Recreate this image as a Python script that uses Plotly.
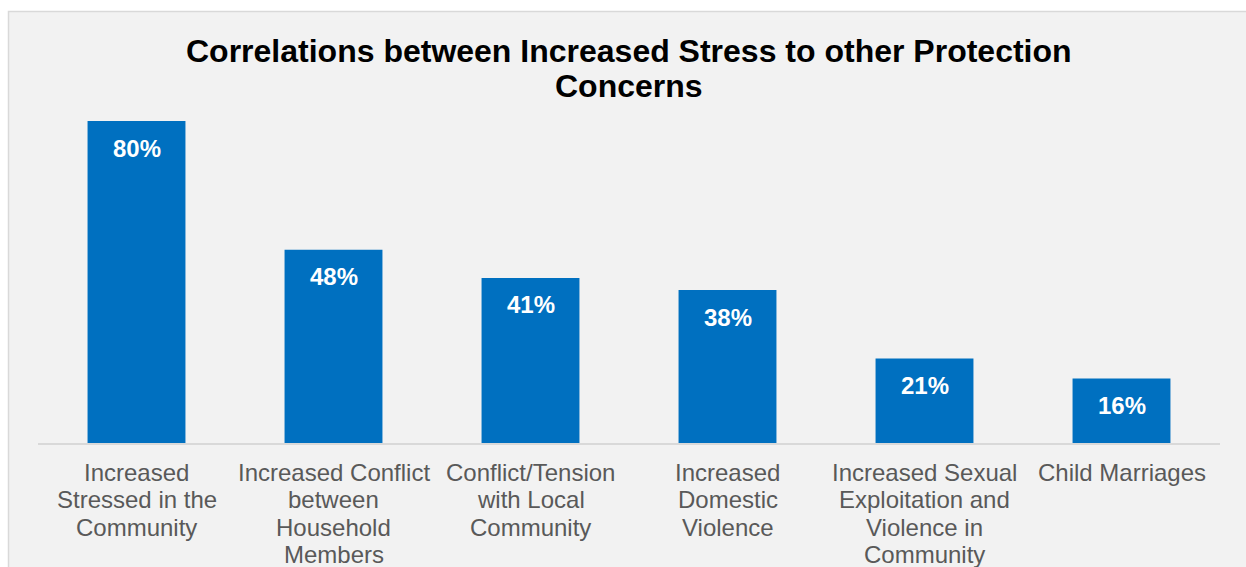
import plotly.graph_objects as go

# Chart data
categories = [
    "Increased<br>Stressed in the<br>Community",
    "Increased Conflict<br>between<br>Household<br>Members",
    "Conflict/Tension<br>with Local<br>Community",
    "Increased<br>Domestic<br>Violence",
    "Increased Sexual<br>Exploitation and<br>Violence in<br>Community",
    "Child Marriages",
]
values = [80, 48, 41, 38, 21, 16]
title_lines = ["Correlations between Increased Stress to other Protection", "Concerns"]

W, H = 1246, 567
M_L, M_R, M_T, M_B = 38, 26, 101, 124
PLOT_H = H - M_T - M_B
BAR_BLUE = "#0070c0"
GRID_GREY = "#d9d9d9"
TEXT_GREY = "#595959"
FONT = "Liberation Sans, Arial, sans-serif"


def px_to_paper_y(py):
    return (H - M_B - py) / PLOT_H


def px_to_paper_x(px):
    return (px - M_L) / (W - M_L - M_R)


x_idx = list(range(len(categories)))

fig = go.Figure(
    go.Bar(
        x=x_idx,
        y=values,
        marker=dict(color=BAR_BLUE, line=dict(width=0)),
        hoverinfo="skip",
    )
)

annotations = []
# value labels inside the top of each bar
for xi, v in zip(x_idx, values):
    annotations.append(dict(
        x=xi, y=v, xref="x", yref="y",
        text=f"<b>{v}%</b>", showarrow=False,
        yanchor="middle", xanchor="center", yshift=-27,
        font=dict(family=FONT, size=24, color="white"),
    ))

# category labels, one line at a time for tight line spacing
LINE_STEP = 27.4
FIRST_OFFSET = 29.5
for xi, label in zip(x_idx, categories):
    for li, line in enumerate(label.split("<br>")):
        annotations.append(dict(
            x=xi, y=0, xref="x", yref="paper",
            text=line, showarrow=False,
            yanchor="middle", xanchor="center",
            yshift=-(FIRST_OFFSET + li * LINE_STEP),
            font=dict(family=FONT, size=24, color=TEXT_GREY),
        ))

# title, two centred lines
for py, line in zip([51, 86], title_lines):
    annotations.append(dict(
        x=0.5, y=px_to_paper_y(py), xref="paper", yref="paper",
        text=f"<b>{line}</b>", showarrow=False,
        yanchor="middle", xanchor="center",
        font=dict(family=FONT, size=32, color="black"),
    ))

shapes = [
    # chart frame
    dict(
        type="rect", xref="paper", yref="paper", layer="below",
        x0=px_to_paper_x(8.5), x1=px_to_paper_x(1260),
        y0=px_to_paper_y(600), y1=px_to_paper_y(11.5),
        fillcolor="#f2f2f2", line=dict(color=GRID_GREY, width=1.5),
    ),
]

fig.update_layout(
    width=W, height=H,
    margin=dict(l=M_L, r=M_R, t=M_T, b=M_B),
    paper_bgcolor="white",
    plot_bgcolor="#f2f2f2",
    bargap=0.503,
    showlegend=False,
    shapes=shapes,
    annotations=annotations,
    xaxis=dict(
        range=[-0.5, len(categories) - 0.5],
        showticklabels=False, ticks="", showgrid=False, zeroline=False,
        showline=True, linecolor=GRID_GREY, linewidth=2,
        fixedrange=True,
    ),
    yaxis=dict(
        range=[0, PLOT_H / 4.025],
        visible=False, showgrid=False, zeroline=False,
        fixedrange=True,
    ),
)

fig.write_html("out.html", config={"displayModeBar": False})
